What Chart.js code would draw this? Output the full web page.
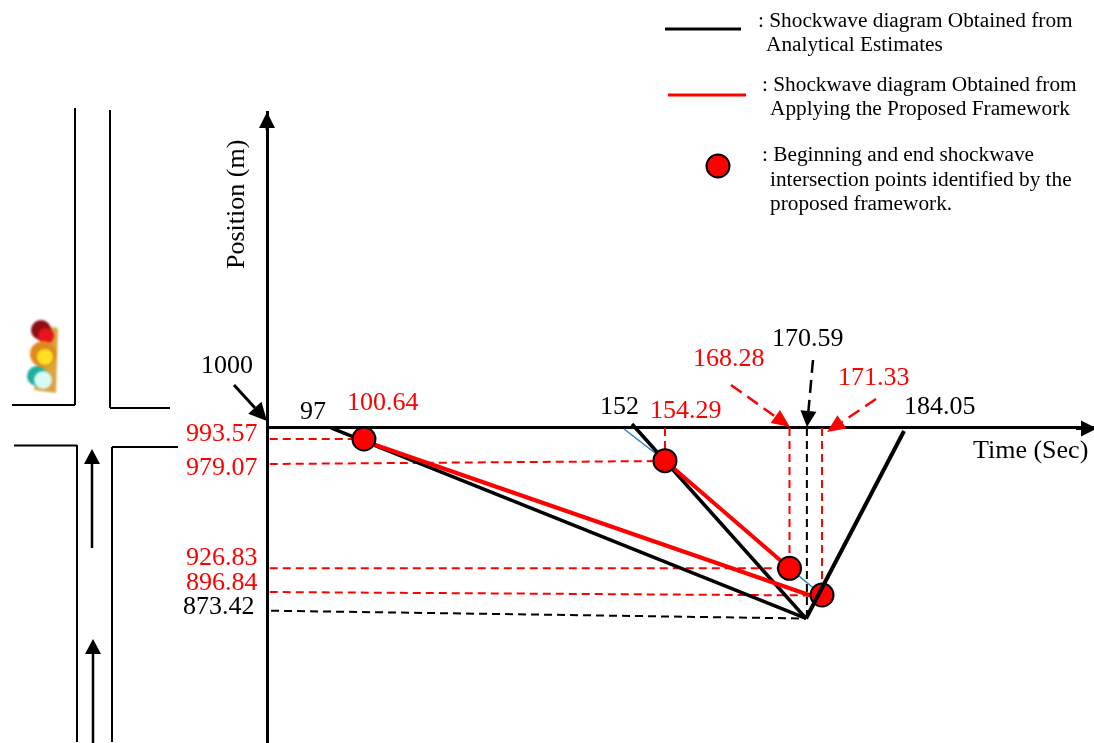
<!DOCTYPE html>
<html>
<head>
<meta charset="utf-8">
<title>Shockwave diagram</title>
<script src="https://cdn.jsdelivr.net/npm/chart.js@4"></script>
<style>
  html, body { margin: 0; padding: 0; background: #fff; }
  canvas { display: block; }
</style>
</head>
<body>
<canvas id="shockwaveChart" width="1094" height="743"></canvas>
<script>
// The figure is a sketch, not to scale: the values below are where each mark
// sits against the time and position axes, the printed numbers are just labels.
const analyticalQueueTimes = [97, 169.17];
const analyticalQueuePositions = [1000, 873.75];
const analyticalDischargeTimes = [142.73, 169.17];
const analyticalDischargePositions = [1002.65, 873.75];
const analyticalRecoveryTimes = [169.17, 184.06];
const analyticalRecoveryPositions = [873.75, 998.01];

const proposedQueueTimes = [102.01, 170.08];
const proposedQueuePositions = [991.38, 888.66];
const proposedDischargeTimes = [147.74, 166.66];
const proposedDischargePositions = [978.33, 907.02];

const blueStartTimes = [141.52, 147.74];
const blueStartPositions = [999.34, 978.33];
const blueEndTimes = [166.66, 171.6];
const blueEndPositions = [907.02, 889.33];

const pointTimes = [102.01, 147.74, 166.66, 171.6];
const pointPositions = [992.71, 978.33, 907.02, 889.33];

const guideStartTime = 87.7;
const redGuideFromPositions = [992.71, 976.14, 907.02, 891.31];
const redGuideToTimes = [102.01, 147.74, 166.66, 171.6];
const redGuideToPositions = [992.71, 978.13, 907.02, 888.99];
const blackGuideTimes = [87.9, 169.17];
const blackGuidePositions = [878.92, 873.75];
const redDropTimes = [147.74, 166.66, 171.6];
const redDropPositions = [978.33, 907.02, 889.33];
const blackDropTimes = [169.3, 169.3];
const blackDropPositions = [1000, 873.75];

const redTimeLabels = ["100.64", "154.29", "168.28", "171.33"];
const blackTimeLabels = ["97", "152", "170.59", "184.05"];
const redPositionLabels = ["993.57", "979.07", "926.83", "896.84"];
const blackPositionLabels = ["1000", "873.42"];
const legendLabels = [
  ": Shockwave diagram Obtained from", "Analytical Estimates",
  ": Shockwave diagram Obtained from", "Applying the Proposed Framework",
  ": Beginning and end shockwave", "intersection points identified by the", "proposed framework."
];

const serif = '"Liberation Serif", "Times New Roman", serif';
const RED = "#ff0000";

function pts(xs, ys) {
  return xs.map((x, i) => ({ x: x, y: ys[i] }));
}

function line(xs, ys, color, width, dash) {
  return {
    data: pts(xs, ys),
    showLine: true,
    borderColor: color,
    borderWidth: width,
    borderDash: dash || [],
    pointRadius: 0,
    pointHoverRadius: 0
  };
}

function seg(ctx, x0, y0, x1, y1, width, color) {
  ctx.beginPath();
  ctx.moveTo(x0, y0);
  ctx.lineTo(x1, y1);
  ctx.lineWidth = width || 2;
  ctx.strokeStyle = color || "#000";
  ctx.stroke();
}

function arrow(ctx, x0, y0, x1, y1, color, dash, width, headLen, headWide) {
  const a = Math.atan2(y1 - y0, x1 - x0);
  const bx = x1 - Math.cos(a) * headLen;
  const by = y1 - Math.sin(a) * headLen;
  ctx.save();
  ctx.setLineDash(dash || []);
  seg(ctx, x0, y0, bx, by, width, color);
  ctx.setLineDash([]);
  ctx.fillStyle = color;
  ctx.beginPath();
  ctx.moveTo(x1, y1);
  ctx.lineTo(bx - Math.sin(a) * headWide, by + Math.cos(a) * headWide);
  ctx.lineTo(bx + Math.sin(a) * headWide, by - Math.cos(a) * headWide);
  ctx.closePath();
  ctx.fill();
  ctx.restore();
}

function text(ctx, str, x, y, size, color) {
  ctx.font = size + "px " + serif;
  ctx.fillStyle = color || "#000";
  ctx.textAlign = "left";
  ctx.textBaseline = "alphabetic";
  ctx.fillText(str, x, y);
}

function dot(ctx, x, y, r, color) {
  ctx.beginPath();
  ctx.arc(x, y, r, 0, Math.PI * 2);
  ctx.fillStyle = color;
  ctx.fill();
}

// the signal is a small blurry photo in the original
function drawTrafficLight(ctx) {
  ctx.save();
  ctx.filter = "blur(1px)";
  ctx.fillStyle = "#d8a53f";
  ctx.beginPath();
  ctx.moveTo(44, 326);
  ctx.lineTo(58, 328);
  ctx.lineTo(56, 393);
  ctx.lineTo(34, 390);
  ctx.closePath();
  ctx.fill();
  dot(ctx, 41, 330, 10, "#8c0f14");
  dot(ctx, 46, 336, 8, "#e8141c");
  dot(ctx, 43, 354, 13, "#e08a1c");
  dot(ctx, 45, 357, 8, "#ffe020");
  dot(ctx, 37, 376, 10, "#1fae9c");
  dot(ctx, 43, 380, 9, "#d8fbf6");
  ctx.restore();
}

// road layout, signal and legend samples sit around the plot
const sketchPlugin = {
  id: "sketch",
  beforeDatasetsDraw(chart) {
    const ctx = chart.ctx;
    ctx.save();
    seg(ctx, 75, 108, 75, 405);
    seg(ctx, 12, 405, 75, 405);
    seg(ctx, 110, 110, 110, 408);
    seg(ctx, 110, 408, 170, 408);
    seg(ctx, 14, 445.5, 77, 445.5);
    seg(ctx, 77, 445, 77, 742);
    seg(ctx, 112, 447, 112, 742);
    seg(ctx, 112, 447, 178, 447);
    arrow(ctx, 92, 548, 92, 449, "#000", null, 2.5, 15, 8);
    arrow(ctx, 93, 743, 93, 639, "#000", null, 2.5, 15, 8);
    drawTrafficLight(ctx);

    seg(ctx, 665, 29, 741, 29, 3);
    seg(ctx, 668, 95, 746, 95, 3, RED);
    ctx.beginPath();
    ctx.arc(718, 166, 11.5, 0, Math.PI * 2);
    ctx.fillStyle = RED;
    ctx.fill();
    ctx.lineWidth = 2;
    ctx.strokeStyle = "#000";
    ctx.stroke();
    ctx.restore();
  },
  afterDraw(chart) {
    const ctx = chart.ctx;
    ctx.save();
    // axis heads
    arrow(ctx, 267, 130, 267, 112, "#000", null, 3, 16, 8);
    arrow(ctx, 1076, 428.5, 1097, 428.5, "#000", null, 3, 16, 8);

    arrow(ctx, 234, 385, 267, 421, "#000", null, 3, 18, 9);
    arrow(ctx, 731, 385, 790, 427, RED, [13, 7], 2.5, 18, 8);
    arrow(ctx, 813, 360, 807, 427, "#000", [13, 7], 2.5, 16, 8);
    arrow(ctx, 876, 399, 827, 432, RED, [13, 7], 2.5, 18, 8);

    const big = 26;
    text(ctx, redTimeLabels[0], 347, 410, big, RED);
    text(ctx, redTimeLabels[1], 650, 418, big, RED);
    text(ctx, redTimeLabels[2], 693, 366, big, RED);
    text(ctx, redTimeLabels[3], 838, 385, big, RED);
    text(ctx, blackTimeLabels[0], 300, 419, big);
    text(ctx, blackTimeLabels[1], 600, 414, big);
    text(ctx, blackTimeLabels[2], 772, 346, big);
    text(ctx, blackTimeLabels[3], 904, 414, big);

    text(ctx, redPositionLabels[0], 186, 441, big, RED);
    text(ctx, redPositionLabels[1], 186, 475, big, RED);
    text(ctx, redPositionLabels[2], 186, 565, big, RED);
    text(ctx, redPositionLabels[3], 186, 590, big, RED);
    text(ctx, blackPositionLabels[0], 201, 373, big);
    text(ctx, blackPositionLabels[1], 183, 614, big);

    text(ctx, "Time (Sec)", 973, 458, big);
    ctx.save();
    ctx.translate(244, 269);
    ctx.rotate(-Math.PI / 2);
    text(ctx, "Position (m)", 0, 0, big);
    ctx.restore();

    const small = 21.3;
    text(ctx, legendLabels[0], 758, 27, small);
    text(ctx, legendLabels[1], 766, 51, small);
    text(ctx, legendLabels[2], 762, 91, small);
    text(ctx, legendLabels[3], 770, 115, small);
    text(ctx, legendLabels[4], 762, 161, small);
    text(ctx, legendLabels[5], 770, 186, small);
    text(ctx, legendLabels[6], 770, 210, small);
    ctx.restore();
  }
};

const dash = [8, 5];
const datasets = [
  line(analyticalRecoveryTimes, analyticalRecoveryPositions, "#000", 4),
  {
    data: pts(pointTimes, pointPositions),
    showLine: false,
    pointRadius: 11.5,
    pointHoverRadius: 11.5,
    pointBackgroundColor: RED,
    pointBorderColor: "#000",
    pointBorderWidth: 2
  },
  line(proposedQueueTimes, proposedQueuePositions, RED, 4),
  line(proposedDischargeTimes, proposedDischargePositions, RED, 4),
  line(analyticalQueueTimes, analyticalQueuePositions, "#000", 3.5),
  line(analyticalDischargeTimes, analyticalDischargePositions, "#000", 3.5),
  line(blueStartTimes, blueStartPositions, "#2e86c8", 1.5),
  line(blueEndTimes, blueEndPositions, "#2e86c8", 1.5),
  line(blackGuideTimes, blackGuidePositions, "#000", 2, dash),
  line(blackDropTimes, blackDropPositions, "#000", 2, dash)
];

redGuideFromPositions.forEach((from, i) => {
  datasets.push(line([guideStartTime, redGuideToTimes[i]], [from, redGuideToPositions[i]], RED, 2, dash));
});
redDropTimes.forEach((t, i) => {
  datasets.push(line([t, t], [1000, redDropPositions[i]], RED, 2, dash));
});

new Chart(document.getElementById("shockwaveChart"), {
  type: "scatter",
  data: { datasets: datasets },
  plugins: [sketchPlugin],
  options: {
    responsive: false,
    animation: false,
    layout: { autoPadding: false, padding: { left: 267, top: 112, right: 0, bottom: 0 } },
    plugins: { legend: { display: false }, tooltip: { enabled: false } },
    scales: {
      x: {
        type: "linear",
        min: 87.28,
        max: 212.92,
        position: { y: 1000 },
        grid: { display: false, drawTicks: false },
        ticks: { display: false },
        border: { display: true, color: "#000", width: 3 }
      },
      y: {
        type: "linear",
        min: 791.24,
        max: 1209.42,
        position: "left",
        grid: { display: false, drawTicks: false },
        ticks: { display: false },
        border: { display: true, color: "#000", width: 3 }
      }
    }
  }
});
</script>
</body>
</html>
